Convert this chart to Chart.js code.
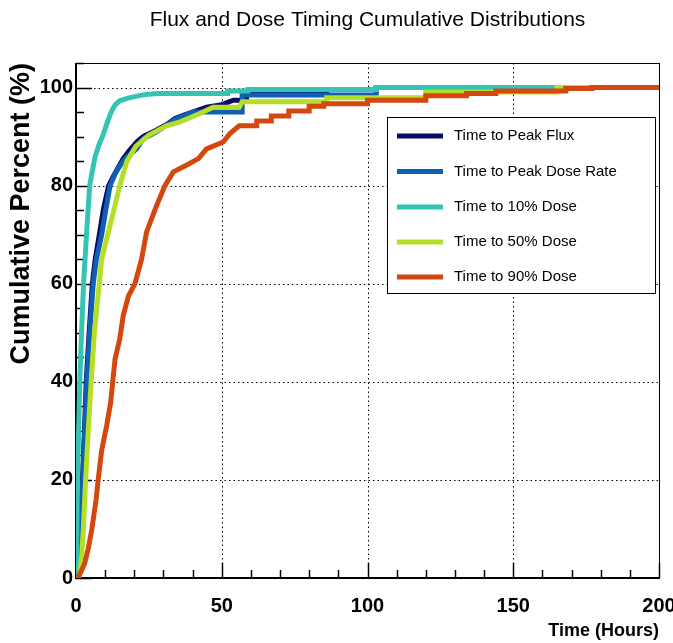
<!DOCTYPE html>
<html>
<head>
<meta charset="utf-8">
<script src="https://cdn.jsdelivr.net/npm/chart.js@4/dist/chart.umd.min.js"></script>
<style>
html,body{margin:0;padding:0;background:#fff;}
#c{display:block;}
</style>
</head>
<body>
<canvas id="c" width="673" height="643"></canvas>
<script>
// ---------- data ----------
const chartTitle = 'Flux and Dose Timing Cumulative Distributions';
const xTitle = 'Time (Hours)';
const yTitle = 'Cumulative Percent (%)';

const seriesLabels = ['Time to Peak Flux', 'Time to Peak Dose Rate', 'Time to 10% Dose', 'Time to 50% Dose', 'Time to 90% Dose'];
const seriesColors = ['#0c0c66', '#0f5fb2', '#33c4b4', '#b3df26', '#d4480f'];

const xTicks = [0, 50, 100, 150, 200];
const yTicks = [0, 20, 40, 60, 80, 100];

// Time to Peak Flux
const tPeakFlux = [0, 0.3, 1.0, 1.5, 2.2, 2.9, 3.5, 4.5, 5.6, 6.6, 8.0, 9.5, 11.2, 12.5, 14.2, 16.2, 18.5, 21, 23, 27.5, 31, 34, 37, 40, 44.8, 50, 54, 58.5, 58.5, 86, 86, 103, 103, 200];
const pPeakFlux = [0, 0, 5, 10, 20, 30, 40, 50, 60, 65, 70, 75.5, 80, 81.5, 83.4, 85.5, 87.3, 89, 90, 91.3, 92.4, 93.7, 94.4, 95, 96, 96.5, 97.4, 97.4, 98.6, 98.6, 99.6, 99.6, 100, 100];
// Time to Peak Dose Rate
const tPeakDose = [0, 0.3, 1.0, 1.6, 2.3, 3.0, 3.7, 4.7, 5.9, 7.0, 8.8, 10.2, 11.7, 13.5, 15, 16.8, 20.8, 23, 27.7, 31, 34, 37, 40, 57, 57, 103, 103, 200];
const pPeakDose = [0, 0, 5, 10, 20, 30, 40, 50, 60, 65, 70, 75, 80, 82.5, 84, 85.5, 87.5, 89.5, 91, 92.3, 93.5, 94.3, 95, 95, 98.5, 98.5, 100, 100];
// Time to 10% Dose
const t10Dose = [0, 0.2, 0.5, 0.9, 1.3, 1.9, 2.6, 3.1, 3.8, 4.7, 5.6, 6.6, 8.0, 9.4, 10.8, 12.2, 13.5, 15, 17.5, 20.5, 24, 28, 52, 52, 59, 59, 103, 103, 200];
const p10Dose = [0, 5, 20, 30, 40, 50, 60, 65, 72, 80, 83, 86, 88.5, 90.5, 93, 95.2, 96.5, 97.3, 97.8, 98.2, 98.6, 98.8, 98.8, 99.3, 99.3, 99.6, 99.6, 100, 100];
// Time to 50% Dose
const t50Dose = [0.8, 1.4, 2.0, 2.5, 3.3, 4.2, 5.2, 6.3, 8.0, 8.8, 11.1, 13.4, 15, 17.5, 20.5, 25, 31, 35.7, 42.5, 47, 56, 57, 86, 86, 120, 120, 165, 165, 200];
const p50Dose = [0, 1, 5, 10, 20, 30, 40, 50, 60, 65, 70.5, 76, 80, 85, 88, 90.3, 92.2, 93, 94.7, 96, 96, 97.1, 97.1, 97.9, 97.9, 99.1, 99.1, 100, 100];
// Time to 90% Dose
const t90Dose = [0.5, 1.5, 3, 4.2, 5.4, 6.9, 7.6, 8.8, 10.5, 11.9, 12.6, 13.4, 15, 16.2, 18, 20.2, 21.6, 22.5, 24.2, 27.7, 30.5, 33.4, 38, 42, 44.8, 50.5, 52.8, 56, 62, 62, 67, 67, 73, 73, 80, 80, 85, 85, 100, 100, 120, 120, 134, 134, 144, 144, 168, 168, 177, 177, 200];
const p90Dose = [0, 1, 3, 6, 9.8, 16, 20, 26, 31, 35.8, 40, 44.6, 48.7, 53.5, 57.5, 60, 63, 65, 70.5, 76, 80, 82.8, 84.2, 85.5, 87.5, 88.9, 90.6, 92.2, 92.2, 93.2, 93.2, 94.2, 94.2, 95.2, 95.2, 96.2, 96.2, 96.7, 96.7, 97.4, 97.4, 98.3, 98.3, 98.8, 98.8, 99.3, 99.3, 99.8, 99.8, 100, 100];

const seriesTimes = [tPeakFlux, tPeakDose, t10Dose, t50Dose, t90Dose];
const seriesPercents = [pPeakFlux, pPeakDose, p10Dose, p50Dose, p90Dose];

// ---------- styling ----------
const SANS = "'Liberation Sans', Arial, Helvetica, sans-serif";

const datasets = seriesLabels.map((label, i) => ({
  label,
  data: seriesTimes[i].map((t, k) => ({x: t, y: seriesPercents[i][k]})),
  borderColor: seriesColors[i],
  backgroundColor: seriesColors[i],
  borderWidth: 5,
  pointRadius: 0,
  tension: 0,
  fill: false,
  borderJoinStyle: 'miter',
  borderCapStyle: 'butt',
  order: seriesLabels.length - i
}));

const axesPlugin = {
  id: 'rootAxes',
  beforeDatasetsDraw(chart) {
    const {ctx, chartArea: a, scales: {x, y}} = chart;
    ctx.save();
    // dotted grid
    ctx.strokeStyle = '#000';
    ctx.lineWidth = 1;
    ctx.setLineDash([1.5, 3]);
    xTicks.forEach(v => {
      if (v === x.min || v === x.max) return;
      const px = Math.round(x.getPixelForValue(v)) + 0.5;
      ctx.beginPath(); ctx.moveTo(px, a.top); ctx.lineTo(px, a.bottom); ctx.stroke();
    });
    yTicks.forEach(v => {
      if (v === y.min) return;
      const py = Math.round(y.getPixelForValue(v)) + 0.5;
      ctx.beginPath(); ctx.moveTo(a.left, py); ctx.lineTo(a.right, py); ctx.stroke();
    });
    ctx.setLineDash([]);
    // tick marks (inside)
    ctx.lineWidth = 1.5;
    for (let v = x.min; v <= x.max; v += 10) {
      const px = Math.round(x.getPixelForValue(v)) + 0.5;
      const len = (v % 50 === 0) ? 15 : 8;
      ctx.beginPath(); ctx.moveTo(px, a.bottom); ctx.lineTo(px, a.bottom - len); ctx.stroke();
    }
    for (let v = y.min; v <= y.max; v += 5) {
      const py = Math.round(y.getPixelForValue(v)) + 0.5;
      const len = (v % 20 === 0) ? 16 : 8;
      ctx.beginPath(); ctx.moveTo(a.left, py); ctx.lineTo(a.left + len, py); ctx.stroke();
    }
    // frame
    ctx.lineWidth = 1;
    ctx.strokeRect(Math.round(a.left) + 0.5, Math.round(a.top) + 0.5, Math.round(a.right - a.left), Math.round(a.bottom - a.top));
    ctx.lineWidth = 2;
    ctx.beginPath();
    ctx.moveTo(a.left, a.top); ctx.lineTo(a.left, a.bottom); ctx.lineTo(a.right, a.bottom);
    ctx.stroke();
    ctx.restore();
  },
  afterDatasetsDraw(chart) {
    const {ctx} = chart;
    // legend box
    const L = 387, T = 117, R = 655, B = 293;
    ctx.save();
    ctx.fillStyle = '#fff';
    ctx.fillRect(L, T, R - L, B - T);
    ctx.strokeStyle = '#000';
    ctx.lineWidth = 1;
    ctx.strokeRect(L + 0.5, T + 0.5, R - L, B - T);
    const rowY = [136, 171.5, 207, 242, 277];
    chart.data.datasets.forEach((ds, i) => {
      ctx.strokeStyle = ds.borderColor;
      ctx.lineWidth = 5;
      ctx.beginPath(); ctx.moveTo(397, rowY[i]); ctx.lineTo(443, rowY[i]); ctx.stroke();
      ctx.fillStyle = '#000';
      ctx.font = '15px ' + SANS;
      ctx.textAlign = 'left';
      ctx.textBaseline = 'middle';
      ctx.fillText(ds.label, 454, rowY[i]);
    });
    ctx.restore();
  }
};

new Chart(document.getElementById('c'), {
  type: 'line',
  data: {datasets},
  options: {
    responsive: false,
    animation: false,
    devicePixelRatio: 1,
    layout: {padding: {left: 0, right: 0, top: 0, bottom: 0}},
    plugins: {
      legend: {display: false},
      tooltip: {enabled: false},
      title: {
        display: true,
        text: chartTitle,
        fullSize: false,
        color: '#000',
        font: {family: SANS, size: 21, weight: 'normal', lineHeight: 1.2},
        padding: {top: 8, bottom: 29.8}
      }
    },
    scales: {
      x: {
        type: 'linear',
        min: 0, max: 200,
        grid: {display: false, drawTicks: false},
        border: {display: false},
        ticks: {
          stepSize: 50, includeBounds: false, padding: 16, color: '#000',
          font: {family: SANS, size: 20, weight: 'bold'},
          maxRotation: 0,
          callback: v => String(v)
        },
        title: {
          display: true, text: xTitle, align: 'end', color: '#000',
          font: {family: SANS, size: 18, weight: 'bold', lineHeight: 1.2},
          padding: {top: 0, bottom: 1}
        },
        afterFit: s => { s.height = 65; s.paddingRight = 14; s.paddingLeft = 0; }
      },
      y: {
        type: 'linear',
        min: 0, max: 105,
        grid: {display: false, drawTicks: false},
        border: {display: false},
        ticks: {
          stepSize: 20, includeBounds: false, padding: 3, color: '#000',
          font: {family: SANS, size: 20, weight: 'bold'},
          callback: v => String(v)
        },
        title: {
          display: true, text: yTitle, align: 'end', color: '#000',
          font: {family: SANS, size: 27, weight: 'bold', lineHeight: 1.2},
          padding: {top: 5, bottom: 0}
        },
        afterFit: s => { s.width = 76; s.paddingTop = 0; s.paddingBottom = 0; }
      }
    }
  },
  plugins: [axesPlugin]
});
</script>
</body>
</html>
